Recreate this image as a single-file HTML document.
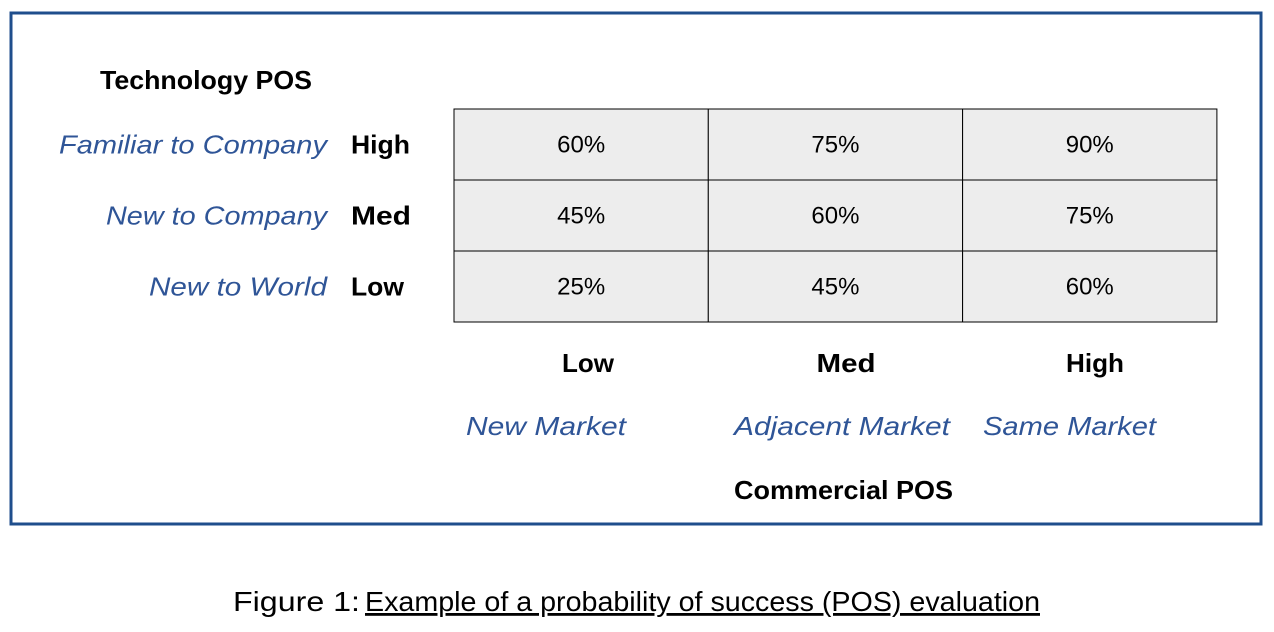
<!DOCTYPE html>
<html><head><meta charset="utf-8"><style>
html,body{margin:0;padding:0;background:#fff;}
svg{display:block;font-family:"Liberation Sans",sans-serif;}
</style></head><body>
<svg width="1274" height="632" viewBox="0 0 1274 632">
<rect x="11" y="13" width="1250" height="511" fill="none" stroke="#1F4E8C" stroke-width="3"/>
<text x="100" y="89" font-size="26" font-weight="bold" fill="#000" textLength="212" lengthAdjust="spacingAndGlyphs">Technology POS</text>
<g id="cells"></g>
<g id="labels"></g>
<text x="734" y="499" font-size="26" font-weight="bold" textLength="219" lengthAdjust="spacingAndGlyphs">Commercial POS</text>
<text x="233" y="611" font-size="28" fill="#000" textLength="127" lengthAdjust="spacingAndGlyphs">Figure 1:</text>
<text x="365" y="611" font-size="28" fill="#000" text-decoration="underline" textLength="675" lengthAdjust="spacingAndGlyphs">Example of a probability of success (POS) evaluation</text>
</svg>
<script>
const rowLevels = ["High","Med","Low"];
const rowDescs = ["Familiar to Company","New to Company","New to World"];
const colLevels = ["Low","Med","High"];
const colDescs = ["New Market","Adjacent Market","Same Market"];
const values = [[60,75,90],[45,60,75],[25,45,60]];
const NS="http://www.w3.org/2000/svg";
const x0=454,y0=109,cw=254.3,rh=71;
const xPos=i=>x0+i*cw, yPos=j=>y0+j*rh;
const rowDescW=[268,221,178], rowLevW=[59,60,53], colLevW=[52,59,58], colDescW=[160,216,173];
const cells=document.getElementById('cells'), labels=document.getElementById('labels');
function mk(tag,attrs,parent,txt){const e=document.createElementNS(NS,tag);for(const k in attrs)e.setAttribute(k,attrs[k]);if(txt!==undefined)e.textContent=txt;parent.appendChild(e);return e;}
values.forEach((row,j)=>row.forEach((v,i)=>{
  const r=mk('rect',{x:xPos(i),y:yPos(j),width:cw,height:rh,fill:'#EDEDED',stroke:'#000','stroke-width':1},cells);
  
  
  const t=mk('text',{x:xPos(i)+cw/2,y:yPos(j)+rh/2+8,'font-size':24,'text-anchor':'middle'},cells,v+'%');
  
  
}));
rowLevels.forEach((l,j)=>{
  const cy=yPos(j)+rh/2+9;
  const d=mk('text',{x:327-rowDescW[j],y:cy,'font-size':26,'font-style':'italic',fill:'#2F5597',textLength:rowDescW[j],lengthAdjust:'spacingAndGlyphs'},labels,rowDescs[j]);
  
  
  const t=mk('text',{x:351,y:cy,'font-size':26,'font-weight':'bold',textLength:rowLevW[j],lengthAdjust:'spacingAndGlyphs'},labels,l);
  
  
});
const colCenters=[588,846,1095], colStarts=[466,734,983];
colLevels.forEach((l,i)=>{
  const t=mk('text',{x:colCenters[i]-colLevW[i]/2,y:372,'font-size':26,'font-weight':'bold',textLength:colLevW[i],lengthAdjust:'spacingAndGlyphs'},labels,l);
  
  
  const d=mk('text',{x:colStarts[i],y:435,'font-size':26,'font-style':'italic',fill:'#2F5597',textLength:colDescW[i],lengthAdjust:'spacingAndGlyphs'},labels,colDescs[i]);
  
  
});
</script>
</body></html>
